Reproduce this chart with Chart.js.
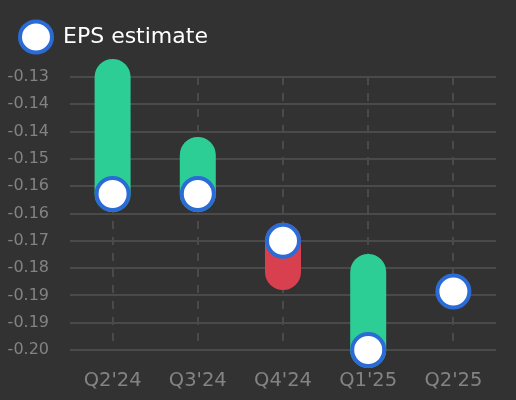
<!DOCTYPE html>
<html>
<head>
<meta charset="utf-8">
<script src="https://cdn.jsdelivr.net/npm/chart.js@4.4.1/dist/chart.umd.min.js"></script>
<style>
  html, body { margin: 0; padding: 0; background: #323232; }
  #wrap { width: 516px; height: 400px; position: relative; }
</style>
</head>
<body>
<div id="wrap"><canvas id="c"></canvas></div>
<script>
const categories = ["Q2'24", "Q3'24", "Q4'24", "Q1'25", "Q2'25"];
const epsEstimate = [-0.160, -0.160, -0.172, -0.200, -0.185];
const epsActual = [-0.130, -0.150, -0.180, -0.180, null];
const yTickValues = [-0.13, -0.137, -0.144, -0.151, -0.158, -0.165, -0.172, -0.179, -0.186, -0.193, -0.20];
const yTickLabels = ["-0.13", "-0.14", "-0.14", "-0.15", "-0.16", "-0.16", "-0.17", "-0.18", "-0.19", "-0.19", "-0.20"];

const GREEN = '#2dcd96';
const RED = '#d8404f';
const BLUE = '#2b6bd6';
const GRID = '#4a4a4a';
const TICK = '#838383';

const actualSets = categories.map((cat, i) => {
  if (epsActual[i] === null) return null;
  return {
    type: 'line',
    label: 'actual ' + cat,
    data: [{x: cat, y: epsEstimate[i]}, {x: cat, y: epsActual[i]}],
    borderColor: epsActual[i] >= epsEstimate[i] ? GREEN : RED,
    borderWidth: 36,
    borderCapStyle: 'round',
    pointRadius: 0,
    pointHoverRadius: 0,
    clip: false,
    order: 2
  };
}).filter(Boolean);

const estimateSet = {
  type: 'line',
  label: 'EPS estimate',
  data: epsEstimate,
  showLine: false,
  pointRadius: 16,
  pointHoverRadius: 16,
  pointBorderWidth: 4,
  pointBackgroundColor: '#ffffff',
  pointBorderColor: BLUE,
  backgroundColor: '#ffffff',
  borderColor: BLUE,
  clip: false,
  order: 0
};

const legendGap = {
  id: 'legendGap',
  afterInit(chart) {
    const lg = chart.legend;
    if (!lg) return;
    const orig = lg.fit;
    lg.fit = function () { orig.call(this); this.height += 19; };
  }
};

new Chart(document.getElementById('c'), {
  type: 'line',
  data: {
    labels: categories,
    datasets: [estimateSet, ...actualSets]
  },
  plugins: [legendGap],
  options: {
    responsive: true,
    maintainAspectRatio: false,
    animation: false,
    layout: { padding: { left: 8, right: 20, top: 14, bottom: 0 } },
    plugins: {
      tooltip: { enabled: false },
      legend: {
        position: 'top',
        align: 'start',
        labels: {
          filter: (item) => item.text === 'EPS estimate',
          usePointStyle: true,
          pointStyle: 'circle',
          pointStyleWidth: 32,
          color: '#ffffff',
          padding: 12,
          font: { family: 'DejaVu Sans', size: 22 }
        }
      }
    },
    scales: {
      x: {
        type: 'category',
        offset: true,
        afterFit: (axis) => { axis.height = 50; },
        grid: { color: GRID, lineWidth: 2, drawTicks: false },
        border: { display: false, dash: [8, 8] },
        ticks: { color: TICK, font: { family: 'DejaVu Sans', size: 19.5 }, padding: 19 }
      },
      y: {
        min: -0.20,
        max: -0.13,
        afterFit: (axis) => { axis.width = 62; },
        afterBuildTicks: (axis) => { axis.ticks = yTickValues.map(v => ({ value: v })); },
        grid: { color: GRID, lineWidth: 2, drawTicks: false },
        border: { display: false },
        ticks: {
          color: TICK,
          font: { family: 'DejaVu Sans', size: 16 },
          padding: 21,
          callback: (v, i) => yTickLabels[i]
        }
      }
    }
  }
});
</script>
</body>
</html>
